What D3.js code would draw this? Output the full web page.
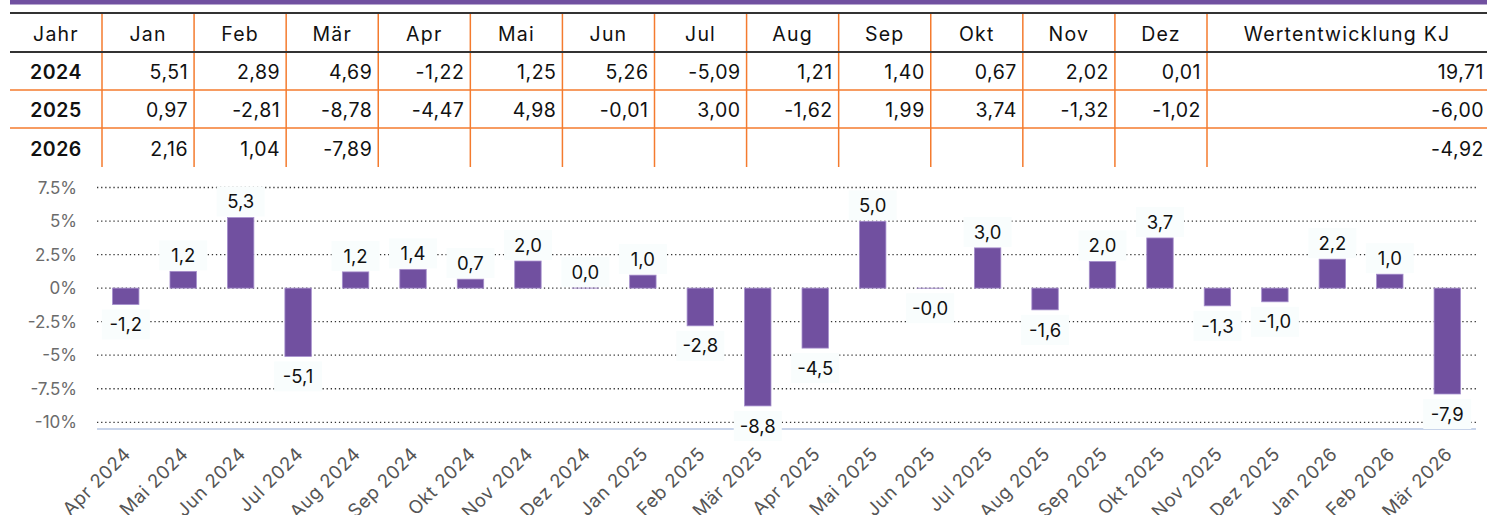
<!DOCTYPE html>
<html>
<head>
<meta charset="utf-8">
<script src="https://cdn.jsdelivr.net/npm/d3@7"></script>
<style>
  body { margin: 0; background: #fff; }
  svg { display: block; font-family: "Inter", "Noto Sans", sans-serif; }
</style>
</head>
<body>
<div id="chart"></div>
<script>
// table data
const tableHeader = ["Jahr", "Jan", "Feb", "Mär", "Apr", "Mai", "Jun", "Jul", "Aug", "Sep", "Okt", "Nov", "Dez", "Wertentwicklung KJ"];
const tableYears = ["2024", "2025", "2026"];
const values2024 = ["5,51", "2,89", "4,69", "-1,22", "1,25", "5,26", "-5,09", "1,21", "1,40", "0,67", "2,02", "0,01"];
const values2025 = ["0,97", "-2,81", "-8,78", "-4,47", "4,98", "-0,01", "3,00", "-1,62", "1,99", "3,74", "-1,32", "-1,02"];
const values2026 = ["2,16", "1,04", "-7,89", "", "", "", "", "", "", "", "", ""];
const ytdValues = ["19,71", "-6,00", "-4,92"];

// chart data (last 24 months)
const chartMonths = ["Apr 2024", "Mai 2024", "Jun 2024", "Jul 2024", "Aug 2024", "Sep 2024", "Okt 2024", "Nov 2024",
    "Dez 2024", "Jan 2025", "Feb 2025", "Mär 2025", "Apr 2025", "Mai 2025", "Jun 2025", "Jul 2025", "Aug 2025",
    "Sep 2025", "Okt 2025", "Nov 2025", "Dez 2025", "Jan 2026", "Feb 2026", "Mär 2026"];
const chartValues = [-1.22, 1.25, 5.26, -5.09, 1.21, 1.40, 0.67, 2.02, 0.01, 0.97, -2.81, -8.78, -4.47, 4.98, -0.01,
    3.00, -1.62, 1.99, 3.74, -1.32, -1.02, 2.16, 1.04, -7.89];
const chartLabels = ["-1,2", "1,2", "5,3", "-5,1", "1,2", "1,4", "0,7", "2,0", "0,0", "1,0", "-2,8", "-8,8", "-4,5",
    "5,0", "-0,0", "3,0", "-1,6", "2,0", "3,7", "-1,3", "-1,0", "2,2", "1,0", "-7,9"];
const yTicks = [7.5, 5, 2.5, 0, -2.5, -5, -7.5, -10];

const width = 1487, height = 515;
const svg = d3.select("#chart").append("svg")
    .attr("width", width)
    .attr("height", height);

// purple band on top
svg.append("rect")
    .attr("x", 10).attr("y", 0)
    .attr("width", width - 10).attr("height", 4.5)
    .attr("fill", "#7150a0");

// ---- table ----
const tLeft = 10, tRight = 1487;
const colEdges = [tLeft, 102];
for (let i = 1; i <= 12; i++) colEdges.push(102 + i * (1207 - 102) / 12);
colEdges.push(tRight);
const rowEdges = [13, 52, 90, 128, 167];

const table = svg.append("g").attr("class", "table");
const rows = [values2024, values2025, values2026];

// vertical orange lines
table.selectAll("line.v")
    .data(colEdges.slice(1, -1))
    .join("line")
    .attr("x1", d => d).attr("x2", d => d)
    .attr("y1", rowEdges[0]).attr("y2", rowEdges[4])
    .attr("stroke", "#f47b2e").attr("stroke-width", 1.5);

// horizontal orange row separators
table.selectAll("line.h")
    .data([rowEdges[2], rowEdges[3]])
    .join("line")
    .attr("x1", tLeft).attr("x2", tRight)
    .attr("y1", d => d).attr("y2", d => d)
    .attr("stroke", "#f47b2e").attr("stroke-width", 1.5);

// dark header lines
table.selectAll("line.d")
    .data([rowEdges[0], rowEdges[1]])
    .join("line")
    .attr("x1", tLeft).attr("x2", tRight)
    .attr("y1", d => d).attr("y2", d => d)
    .attr("stroke", "#333").attr("stroke-width", 1.8);

// header text
table.selectAll("text.head")
    .data(tableHeader)
    .join("text")
    .attr("x", (d, i) => (colEdges[i] + colEdges[i + 1]) / 2)
    .attr("y", (rowEdges[0] + rowEdges[1]) / 2 + 1)
    .attr("dy", "0.36em")
    .attr("text-anchor", "middle")
    .style("font-size", "19.5px")
    .style("letter-spacing", "1.2px")
    .attr("fill", "#111")
    .text(d => d);

rows.forEach((vals, r) => {
    const cy = (rowEdges[r + 1] + rowEdges[r + 2]) / 2 + 1;
    table.append("text")
        .attr("x", (colEdges[0] + colEdges[1]) / 2)
        .attr("y", cy).attr("dy", "0.36em")
        .attr("text-anchor", "middle")
        .style("font-size", "19.5px")
        .style("font-weight", 600)
        .style("letter-spacing", "0.5px")
        .attr("fill", "#111")
        .text(tableYears[r]);
    table.selectAll(null)
        .data(vals.concat([ytdValues[r]]))
        .join("text")
        .attr("x", (d, i) => colEdges[i + 2] - (i === 12 ? 3 : 6))
        .attr("y", cy).attr("dy", "0.36em")
        .attr("text-anchor", "end")
        .style("font-size", "19.5px")
        .style("letter-spacing", "0.5px")
        .attr("fill", "#111")
        .text(d => d);
});

// ---- bar chart ----
const plotLeft = 97, plotRight = 1476;
const x = d3.scaleBand()
    .domain(chartMonths)
    .range([plotLeft, plotRight])
    .paddingInner(0.54)
    .paddingOuter(0.27);

const y = d3.scaleLinear()
    .domain([-10.5, 7.5])
    .range([429, 187.5]);

const chart = svg.append("g");

// dotted gridlines
chart.append("g")
    .selectAll("line")
    .data(yTicks)
    .join("line")
    .attr("x1", plotLeft).attr("x2", plotRight)
    .attr("y1", d => y(d)).attr("y2", d => y(d))
    .attr("stroke", "#333")
    .attr("stroke-width", 1.3)
    .attr("stroke-dasharray", "1.3,2.8");

// y axis labels
chart.append("g")
    .selectAll("text")
    .data(yTicks)
    .join("text")
    .attr("x", 77)
    .attr("y", d => y(d))
    .attr("dy", "0.36em")
    .attr("text-anchor", "end")
    .style("font-size", "17px")
    .attr("fill", "#6b6b6b")
    .text(d => String(d) + "%");

// baseline axis
chart.append("line")
    .attr("x1", plotLeft).attr("x2", plotRight)
    .attr("y1", y(-10.5)).attr("y2", y(-10.5))
    .attr("stroke", "#c8d4ea").attr("stroke-width", 2);

// bars
chart.append("g")
    .selectAll("rect")
    .data(chartValues)
    .join("rect")
    .attr("x", (d, i) => x(chartMonths[i]))
    .attr("width", x.bandwidth())
    .attr("y", d => y(Math.max(0, d)))
    .attr("height", d => Math.abs(y(d) - y(0)))
    .attr("fill", "#7150a0")
    .attr("stroke", "#a58fcc")
    .attr("stroke-width", 0.8);

// value labels
const labels = chart.append("g")
    .selectAll("g")
    .data(chartValues)
    .join("g")
    .attr("transform", (d, i) => {
        const cx = x(chartMonths[i]) + x.bandwidth() / 2;
        const cy = d >= 0 ? y(d) - 16 : y(d) + 20;
        return `translate(${cx},${cy})`;
    });
labels.append("rect")
    .attr("x", -24).attr("y", -15)
    .attr("width", 48).attr("height", 30)
    .attr("fill", "#f9fdfd");
labels.append("text")
    .attr("text-anchor", "middle")
    .attr("dy", "0.36em")
    .style("font-size", "18.5px")
    .attr("fill", "#111")
    .text((d, i) => chartLabels[i]);

// x axis labels
chart.append("g")
    .selectAll("text")
    .data(chartMonths)
    .join("text")
    .attr("transform", d => `translate(${x(d) + x.bandwidth() / 2 - 3},${446}) rotate(-45)`)
    .attr("text-anchor", "end")
    .attr("dy", "0.7em")
    .style("font-size", "18.5px")
    .style("letter-spacing", "0.6px")
    .attr("fill", "#555")
    .text(d => d);
</script>
</body>
</html>
